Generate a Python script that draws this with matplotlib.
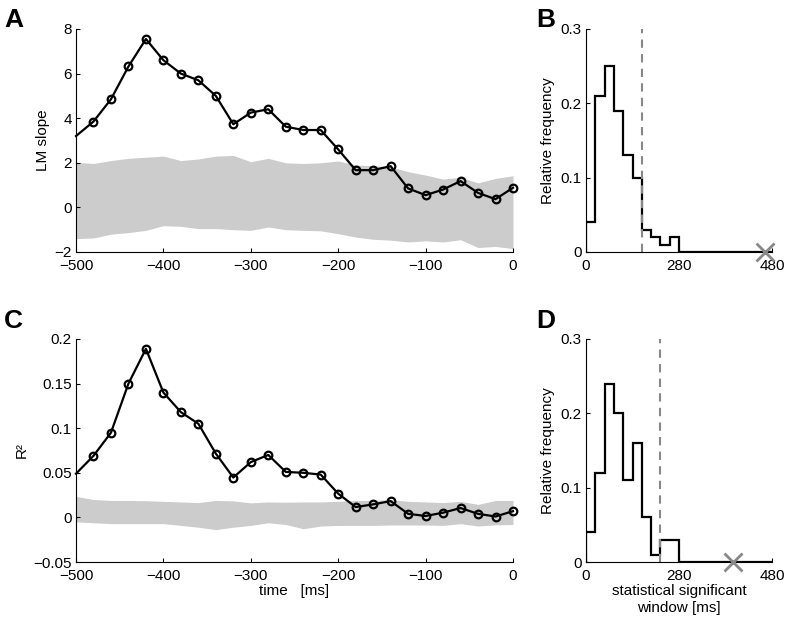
import numpy as np
import matplotlib
matplotlib.use("Agg")
import matplotlib.pyplot as plt

plt.rcParams['font.family'] = ['Liberation Sans', 'DejaVu Sans']
plt.rcParams['font.size'] = 11

# time axis (ms) for panels A and C
time = [-500, -480, -460, -440, -420, -400, -380, -360, -340, -320, -300, -280, -260,
        -240, -220, -200, -180, -160, -140, -120, -100, -80, -60, -40, -20, 0]

lm_slope = [3.2, 3.85, 4.85, 6.32, 7.55, 6.6, 6.0, 5.7, 5.0, 3.73, 4.25, 4.4, 3.62,
            3.47, 3.47, 2.6, 1.67, 1.67, 1.85, 0.85, 0.55, 0.8, 1.18, 0.65, 0.37, 0.88]
lm_hi = [2.02, 1.97, 2.1, 2.2, 2.25, 2.3, 2.1, 2.17, 2.3, 2.33, 2.05, 2.2, 2.0,
         1.97, 2.0, 2.08, 1.9, 1.87, 1.82, 1.6, 1.45, 1.27, 1.35, 1.1, 1.3, 1.42]
lm_lo = [-1.4, -1.37, -1.2, -1.13, -1.03, -0.82, -0.85, -0.95, -0.95, -1.0, -1.03, -0.88, -1.0,
         -1.03, -1.05, -1.18, -1.33, -1.43, -1.47, -1.55, -1.5, -1.55, -1.45, -1.8, -1.75, -1.85]

r2 = [0.049, 0.069, 0.095, 0.150, 0.189, 0.140, 0.118, 0.105, 0.0715, 0.0447, 0.062, 0.070, 0.051,
      0.050, 0.048, 0.0266, 0.0116, 0.0146, 0.0183, 0.004, 0.0016, 0.0053, 0.0105, 0.004, 0.001, 0.007]
r2_hi = [0.0236, 0.020, 0.019, 0.019, 0.0187, 0.018, 0.0173, 0.0166, 0.019, 0.0185, 0.0163, 0.0173, 0.017,
         0.0173, 0.0173, 0.018, 0.019, 0.019, 0.020, 0.018, 0.0173, 0.0166, 0.018, 0.0146, 0.019, 0.019]
r2_lo = [-0.005, -0.006, -0.007, -0.007, -0.007, -0.007, -0.009, -0.011, -0.0137, -0.011, -0.009, -0.006, -0.008,
         -0.0127, -0.0097, -0.009, -0.009, -0.009, -0.0085, -0.0085, -0.0085, -0.009, -0.007, -0.0097, -0.0083, -0.008]

# histograms (20 bins, labelled 0 / 280 / 480)
hist_b = [0.04, 0.21, 0.25, 0.19, 0.13, 0.10, 0.03, 0.02, 0.01, 0.02] + [0] * 10
hist_d = [0.04, 0.12, 0.24, 0.20, 0.11, 0.16, 0.06, 0.01, 0.03, 0.03] + [0] * 10
dash_b, dash_d = 6, 8
cross_b, cross_d = 19.3, 15.8
hist_ticks = [0, 10, 20]
hist_ticklabels = ['0', '280', '480']

W, H = 789, 622
fig = plt.figure(figsize=(W / 100, H / 100), dpi=100)


def px_axes(x0, y0, x1, y1):
    return fig.add_axes([x0 / W, 1 - y1 / H, (x1 - x0) / W, (y1 - y0) / H])


def style(ax):
    for s in ['top', 'right']:
        ax.spines[s].set_visible(False)
    for s in ['left', 'bottom']:
        ax.spines[s].set_linewidth(0.8)
    ax.tick_params(direction='in', length=3, width=0.8, labelsize=11)
    ax.tick_params(axis='x', pad=5)
    ax.tick_params(axis='y', pad=3)


def line_panel(ax, y, lo, hi, ylim, yticks, yticklabels, ylabel):
    ax.fill_between(time, lo, hi, color='#cccccc', lw=0)
    ax.plot(time, y, color='black', lw=1.6, marker='o', ms=5.5, mfc='none', mew=1.6,
            markevery=list(range(1, len(time))), clip_on=False, zorder=3)
    ax.set_xlim(-500, 0)
    ax.set_ylim(*ylim)
    ax.set_xticks(range(-500, 1, 100))
    ax.set_xticklabels([f"{t}".replace('-', '\u2212') for t in range(-500, 1, 100)])
    ax.set_yticks(yticks)
    ax.set_yticklabels(yticklabels)
    ax.set_ylabel(ylabel, labelpad=3)
    style(ax)


def hist_panel(ax, vals, dash, cross):
    ax.stairs(vals, range(len(vals) + 1), color='black', lw=1.6, baseline=0)
    ax.axvline(dash, ymax=1.0, color='#888888', ls=(0, (4, 3)), lw=1.5)
    ax.plot([cross], [0], marker='x', color='#888888', ms=13, mew=2, clip_on=False, zorder=4)
    ax.set_xlim(0, 20)
    ax.set_ylim(0, 0.3)
    ax.set_xticks(hist_ticks)
    ax.set_xticklabels(hist_ticklabels)
    ax.set_yticks([0, 0.1, 0.2, 0.3])
    ax.set_yticklabels(['0', '0.1', '0.2', '0.3'])
    ax.set_ylabel('Relative frequency', labelpad=4)
    style(ax)


axA = px_axes(76, 29, 513, 252)
line_panel(axA, lm_slope, lm_lo, lm_hi, (-2, 8), [-2, 0, 2, 4, 6, 8],
           ['\u22122', '0', '2', '4', '6', '8'], 'LM slope')

axC = px_axes(76, 339, 513, 562)
line_panel(axC, r2, r2_lo, r2_hi, (-0.05, 0.2), [-0.05, 0, 0.05, 0.1, 0.15, 0.2],
           ['\u22120.05', '0', '0.05', '0.1', '0.15', '0.2'], 'R\u00b2')
axC.set_xlabel('time   [ms]', labelpad=1)

axB = px_axes(586, 29, 772, 252)
hist_panel(axB, hist_b, dash_b, cross_b)

axD = px_axes(586, 339, 772, 562)
hist_panel(axD, hist_d, dash_d, cross_d)
axD.set_xlabel('statistical significant\nwindow [ms]', labelpad=1)

for lbl, x, y in [('A', 4, 27), ('B', 536, 27), ('C', 4, 328), ('D', 536, 328)]:
    fig.text(x / W, 1 - y / H, lbl, fontsize=19, fontweight='bold', ha='left', va='baseline')

fig.savefig('out.png', dpi=100)
